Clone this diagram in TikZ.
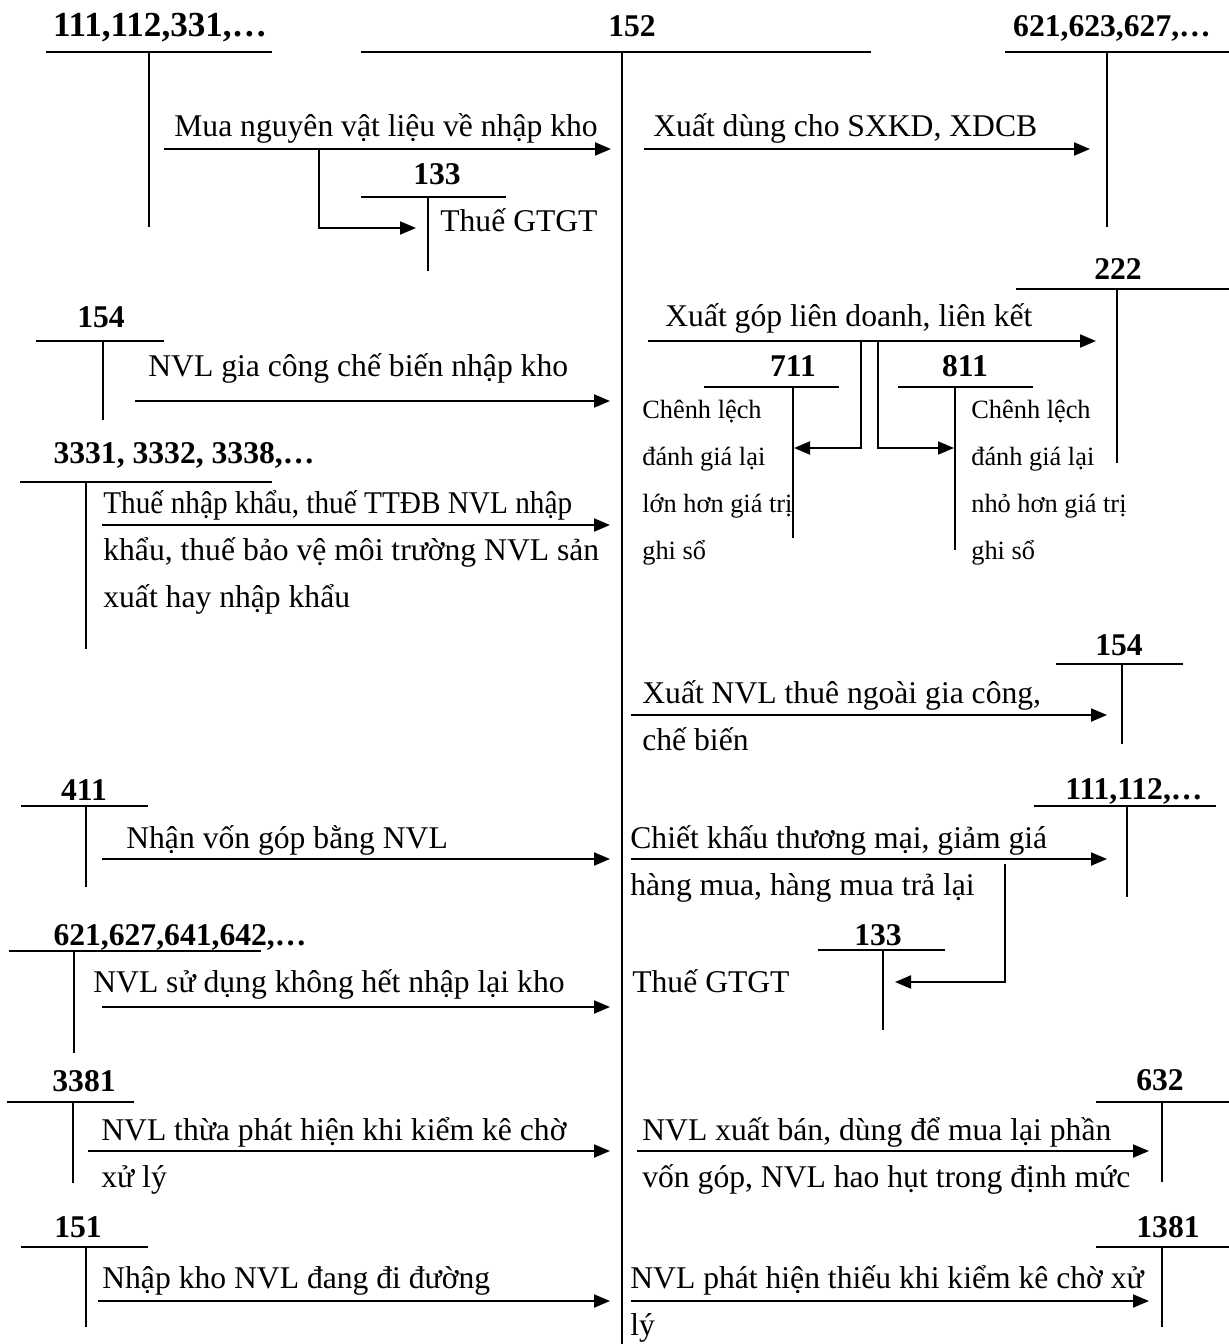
\documentclass[tikz,border=0pt]{standalone}
\usepackage{graphicx}
\usepackage{fontspec}
\setmainfont{Liberation Serif}
\usetikzlibrary{arrows.meta}

\begin{document}
\begin{tikzpicture}[x=0.02cm,y=-0.02cm,
  tk/.style={line width=1.1pt},
  flow/.style={line width=1.1pt,-{Triangle[length=0.32cm,width=0.26cm]}},
  acc/.style={font=\bfseries\fontsize{18}{22}\selectfont,anchor=base,inner sep=0pt},
  txt/.style={font=\fontsize{18}{26.6}\selectfont,anchor=base west,inner sep=0pt,align=left},
  sml/.style={font=\fontsize{15}{26.6}\selectfont,anchor=base west,inner sep=0pt,align=left}]
  \useasboundingbox (0,0) rectangle (1229,1344);

  % Account names
  \node[acc,font=\bfseries\fontsize{20}{22}\selectfont] (k111) at (160,37) {111,112,331,\dots};
  \node[acc] (k152) at (632,37) {152};
  \node[acc] (k621) at (1112,37) {621,623,627,\dots};
  \node[acc] (k133a) at (437,185) {133};
  \node[acc] (k222) at (1118,280) {222};
  \node[acc] (k154a) at (101,328) {154};
  \node[acc] (k711) at (793,377) {711};
  \node[acc] (k811) at (965,377) {811};
  \node[acc] (k333) at (184,463) {3331, 3332, 3338,\dots};
  \node[acc] (k154b) at (1119,655) {154};
  \node[acc] (k411) at (84,800) {411};
  \node[acc] (k111b) at (1134,799) {111,112,\dots};
  \node[acc] (k621b) at (180,945) {621,627,641,642,\dots};
  \node[acc] (k133b) at (878,945) {133};
  \node[acc] (k3381) at (84,1091) {3381};
  \node[acc] (k632) at (1160,1090) {632};
  \node[acc] (k151) at (78,1237) {151};
  \node[acc] (k1381) at (1168,1237) {1381};

  % T accounts
  \draw[tk] (46,52) -- (272,52);  \draw[tk] (149,52) -- (149,227);
  \draw[tk] (361,52) -- (871,52);  \draw[tk] (622,52) -- (622,1344);
  \draw[tk] (1005,52) -- (1229,52);  \draw[tk] (1107,52) -- (1107,227);
  \draw[tk] (361,197) -- (506,197);  \draw[tk] (428,197) -- (428,271);
  \draw[tk] (1016,289) -- (1229,289);  \draw[tk] (1117,289) -- (1117,463);
  \draw[tk] (36,341) -- (164,341);  \draw[tk] (103,341) -- (103,420);
  \draw[tk] (704,387) -- (839,387);  \draw[tk] (793,387) -- (793,538);
  \draw[tk] (898,387) -- (1033,387);  \draw[tk] (955,387) -- (955,550);
  \draw[tk] (20,482) -- (272,482);  \draw[tk] (86,482) -- (86,649);
  \draw[tk] (1056,664) -- (1183,664);  \draw[tk] (1122,664) -- (1122,744);
  \draw[tk] (21,806) -- (148,806);  \draw[tk] (86,806) -- (86,887);
  \draw[tk] (1034,806) -- (1216,806);  \draw[tk] (1127,806) -- (1127,897);
  \draw[tk] (9,951) -- (261,951);  \draw[tk] (74,951) -- (74,1053);
  \draw[tk] (818,950) -- (945,950);  \draw[tk] (883,950) -- (883,1030);
  \draw[tk] (7,1102) -- (134,1102);  \draw[tk] (73,1102) -- (73,1183);
  \draw[tk] (1096,1102) -- (1229,1102);  \draw[tk] (1162,1102) -- (1162,1182);
  \draw[tk] (21,1247) -- (148,1247);  \draw[tk] (86,1247) -- (86,1327);
  \draw[tk] (1096,1247) -- (1229,1247);  \draw[tk] (1162,1247) -- (1162,1327);

  % Coordinates of the flows
  \coordinate (mua1) at (164,149);   \coordinate (mua2) at (611,149);
  \coordinate (vat1) at (319,149);   \coordinate (vat2) at (416,228);
  \coordinate (xd1) at (644,149);    \coordinate (xd2) at (1090,149);
  \coordinate (gc1) at (135,401);    \coordinate (gc2) at (610,401);
  \coordinate (lk1) at (648,341);    \coordinate (lk2) at (1096,341);
  \coordinate (ln1) at (861,341);    \coordinate (ln2) at (794,448);
  \coordinate (nh1) at (878,341);    \coordinate (nh2) at (954,448);
  \coordinate (nk1) at (102,525);    \coordinate (nk2) at (610,525);
  \coordinate (tn1) at (631,715);    \coordinate (tn2) at (1107,715);
  \coordinate (vg1) at (102,859);    \coordinate (vg2) at (610,859);
  \coordinate (ck1) at (631,859);    \coordinate (ck2) at (1107,859);
  \coordinate (gt1) at (1005,864);   \coordinate (gt2) at (895,982);
  \coordinate (sd1) at (102,1007);   \coordinate (sd2) at (610,1007);
  \coordinate (th1) at (88,1151);    \coordinate (th2) at (610,1151);
  \coordinate (xb1) at (637,1151);   \coordinate (xb2) at (1149,1151);
  \coordinate (dd1) at (98,1301);    \coordinate (dd2) at (610,1301);
  \coordinate (ti1) at (631,1301);   \coordinate (ti2) at (1149,1301);

  % Flows
  \draw[flow] (mua1) -- (mua2);
  \draw[flow] (vat1) |- (vat2);
  \draw[flow] (xd1) -- (xd2);
  \draw[flow] (gc1) -- (gc2);
  \draw[flow] (lk1) -- (lk2);
  \draw[flow] (ln1) |- (ln2);
  \draw[flow] (nh1) |- (nh2);
  \draw[flow] (nk1) -- (nk2);
  \draw[flow] (tn1) -- (tn2);
  \draw[flow] (vg1) -- (vg2);
  \draw[flow] (ck1) -- (ck2);
  \draw[flow] (gt1) |- (gt2);
  \draw[flow] (sd1) -- (sd2);
  \draw[flow] (th1) -- (th2);
  \draw[flow] (xb1) -- (xb2);
  \draw[flow] (dd1) -- (dd2);
  \draw[flow] (ti1) -- (ti2);

  % Labels (multi-line ones sit on their last line)
  \node[txt] (tmua) at (174,137) {Mua nguyên vật liệu về nhập kho};
  \node[txt] (tvat) at (440,232) {Thuế GTGT};
  \node[txt] (txd) at (653,137) {Xuất dùng cho SXKD, XDCB};
  \node[txt] (tgc) at (148,377) {NVL gia công chế biến nhập kho};
  \node[txt] (tnk) at (103,607) {\scalebox{0.925}[1]{Thuế nhập khẩu, thuế TTĐB NVL nhập}\\khẩu, thuế bảo vệ môi trường NVL sản\\xuất hay nhập khẩu};
  \node[txt] (tlk) at (665,327) {Xuất góp liên doanh, liên kết};
  \node[sml] (tln) at (642,559) {Chênh lệch\\đánh giá lại\\lớn hơn giá trị\\ghi sổ};
  \node[sml] (tnh) at (971,559) {Chênh lệch\\đánh giá lại\\nhỏ hơn giá trị\\ghi sổ};
  \node[txt] (ttn) at (642,750) {Xuất NVL thuê ngoài gia công,\\chế biến};
  \node[txt] (tvg) at (126,848) {Nhận vốn góp bằng NVL};
  \node[txt] (tck) at (630,895) {Chiết khấu thương mại, giảm giá\\hàng mua, hàng mua trả lại};
  \node[txt] (tgt) at (632,992) {Thuế GTGT};
  \node[txt] (tsd) at (93,992) {NVL sử dụng không hết nhập lại kho};
  \node[txt] (tth) at (101,1187) {NVL thừa phát hiện khi kiểm kê chờ\\xử lý};
  \node[txt] (txb) at (642,1187) {NVL xuất bán, dùng để mua lại phần\\vốn góp, NVL hao hụt trong định mức};
  \node[txt] (tdd) at (102,1288) {Nhập kho NVL đang đi đường};
  \node[txt] (tti) at (630,1335) {NVL phát hiện thiếu khi kiểm kê chờ xử\\lý};
\end{tikzpicture}
\end{document}
